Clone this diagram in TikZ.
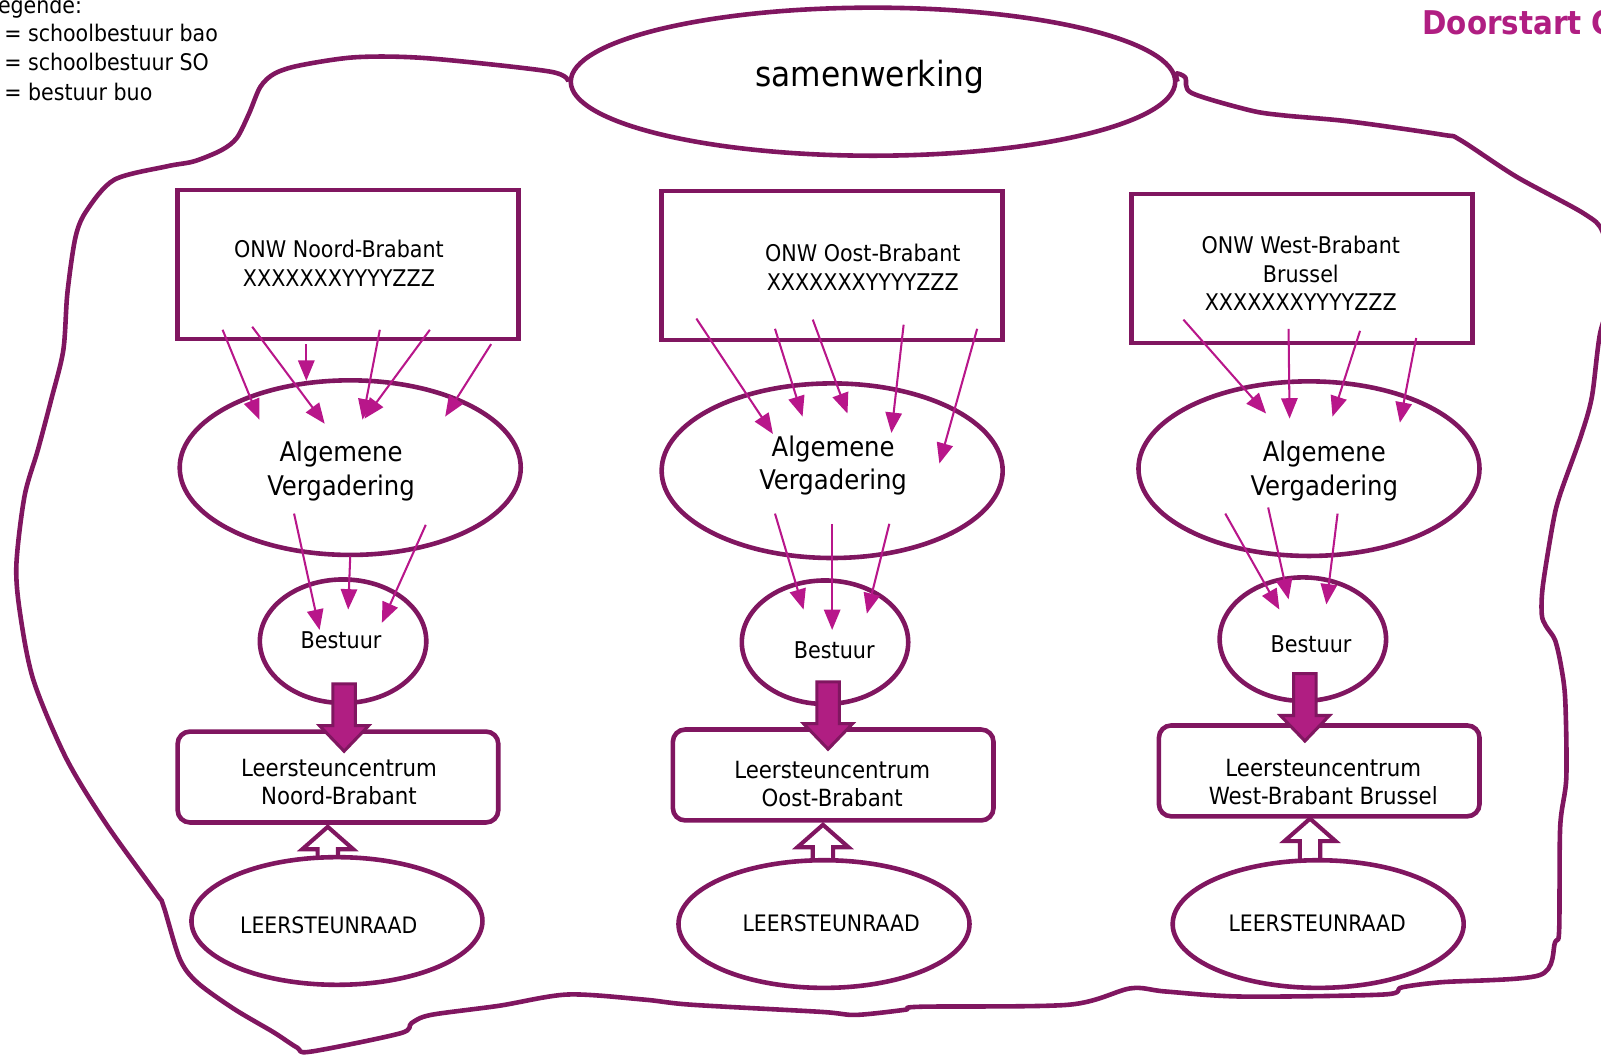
\documentclass[tikz,border=0pt]{standalone}
\usepackage{fontspec}
\setmainfont{DejaVuSansCondensed}[Extension=.ttf, BoldFont=DejaVuSansCondensed-Bold]
\usetikzlibrary{arrows.meta,shapes.geometric}

\definecolor{plum}{RGB}{128,22,96}
\definecolor{magen}{RGB}{184,22,138}
\definecolor{titlemag}{RGB}{176,30,130}

\tikzset{
  rim/.style={draw=plum, line width=4.5pt},
  flow/.style={magen, line width=2pt, -{Triangle[length=20pt,width=16pt]}},
  bigdown/.pic={
    \draw[draw=plum, fill=titlemag, line width=3pt]
      (0,0) -- (-24,-25) -- (-11,-25) -- (-11,-66) -- (11,-66) -- (11,-25) -- (24,-25) -- cycle;
  },
  hollowup/.pic={
    \draw[draw=plum, fill=white, line width=4pt]
      (0,0) -- (-25,22) -- (-10,22) -- (-10,42) -- (10,42) -- (10,22) -- (25,22) -- cycle;
  }
}

\begin{document}
\begin{tikzpicture}[x=1pt, y=-1pt]
  \useasboundingbox (0,0) rectangle (1568,1033);
  \clip (0,0) rectangle (1568,1033);

  % legenda en titel
  \begin{scope}[every node/.style={anchor=base west, inner sep=0pt, font=\fontsize{22.4}{28}\selectfont}]
    \node (leg) at (-13,13) {Legende:};
    \node (legbao) at (4,41) {= schoolbestuur bao};
    \node (legso) at (4,69) {= schoolbestuur SO};
    \node (legbuo) at (4,98) {= bestuur buo};
    \node[text=titlemag, font=\fontsize{32}{38}\selectfont\bfseries] (titel) at (1393,34) {Doorstart C};
  \end{scope}

  \node[rim, ellipse, minimum width=592pt, minimum height=145pt, inner sep=0pt,
        font=\fontsize{34}{40}\selectfont] (samen) at (855,80) {};
  \node[font=\fontsize{34}{40}\selectfont] (samenT) at (852,75) {samenwerking};

  % omtrek van de samenwerking
  \draw[rim, line join=round] plot[smooth, tension=0.5] coordinates {
    (samen.west) (538,70) (418,57) (349,56) (294,64) (269,72) (255,85) (244,111)
    (232,135) (217,147) (190,158) (163,163) (112,176) (85,206) (74,232) (66,287)
    (62,343) (50,392) (37,441) (24,486) (16,554) (20,603) (33,667) (65,743)
    (104,807) (153,875) (160,887) (176,939) (193,962) (229,988) (268,1011)
    (291,1026) (304,1030) (392,1012) (403,1002) (422,994) (489,985) (556,974)
    (631,979) (677,984) (804,991) (838,994) (886,989) (901,986) (1047,984)
    (1107,968) (1141,971) (1216,976) (1355,974) (1373,967) (1411,962) (1508,955)
    (1523,923) (1527,911) (1528,810) (1534,762) (1533,686) (1529,653) (1523,627)
    (1514,613) (1510,602) (1511,574) (1521,512) (1528,484) (1548,428) (1559,389)
    (1567,327) (1580,280) (1570,228) (1551,209) (1485,173) (1430,137) (1413,132)
    (1322,119) (1257,113) (1224,108) (1167,91) (1161,76) (1152,72) (samen.east)};

  % ONW
  \begin{scope}[every node/.style={rim, rectangle, minimum width=334pt, minimum height=146pt}]
    \node (onwN) at (341,259) {};
    \node (onwO) at (815,260) {};
    \node (onwW) at (1275,263) {};
  \end{scope}
  \begin{scope}[every node/.style={align=center, font=\fontsize{22.5}{28}\selectfont}]
    \node (onwNt) at (332,258) {ONW Noord-Brabant\\XXXXXXXYYYYZZZ};
    \node (onwOt) at (845,262) {ONW Oost-Brabant\\XXXXXXXYYYYZZZ};
    \node (onwWt) at (1274,268) {ONW West-Brabant\\Brussel\\XXXXXXXYYYYZZZ};
  \end{scope}

  % algemene vergadering
  \begin{scope}[every node/.style={rim, ellipse, minimum width=334pt, minimum height=171pt}]
    \node (avN) at (343,458) {};
    \node (avO) at (815,461) {};
    \node (avW) at (1282,459) {};
  \end{scope}
  \begin{scope}[every node/.style={align=center, font=\fontsize{26.5}{33}\selectfont}]
    \node (avNt) at (334,461) {Algemene\\Vergadering};
    \node (avOt) at (816,456) {Algemene\\Vergadering};
    \node (avWt) at (1297,461) {Algemene\\Vergadering};
  \end{scope}

  % bestuur
  \begin{scope}[every node/.style={rim, ellipse, minimum width=163pt, minimum height=121pt}]
    \node (bestN) at (336,628) {};
    \node (bestO) at (808,629) {};
    \node (bestW) at (1276,626) {};
  \end{scope}
  \begin{scope}[every node/.style={font=\fontsize{22.6}{27}\selectfont}]
    \node (bestNt) at (334,627) {Bestuur};
    \node (bestOt) at (817,637) {Bestuur};
    \node (bestWt) at (1284,631) {Bestuur};
  \end{scope}

  % leersteuncentra
  \begin{scope}[every node/.style={rim, rectangle, rounded corners=12pt, minimum width=314pt,
                                   minimum height=89pt}]
    \node (lscN) at (331,761) {};
    \node (lscO) at (816,759) {};
    \node (lscW) at (1292,755) {};
  \end{scope}
  \begin{scope}[every node/.style={align=center, font=\fontsize{23.2}{28}\selectfont}]
    \node (lscNt) at (332,766) {Leersteuncentrum\\Noord-Brabant};
    \node (lscOt) at (815,768) {Leersteuncentrum\\Oost-Brabant};
    \node (lscWt) at (1296,766) {Leersteuncentrum\\West-Brabant Brussel};
  \end{scope}

  \pic at ([shift={(-10,2)}]lscN.south) {hollowup};
  \pic at ([shift={(-10,2)}]lscO.south) {hollowup};
  \pic at ([shift={(-9,0)}]lscW.south) {hollowup};

  % leersteunraden
  \begin{scope}[every node/.style={rim, ellipse, fill=white, minimum width=285pt, minimum height=125pt}]
    \node (raadN) at (330,902) {};
    \node (raadO) at (807,905) {};
    \node (raadW) at (1291,905) {};
  \end{scope}
  \begin{scope}[every node/.style={font=\fontsize{22.2}{27}\selectfont}]
    \node (raadNt) at (322,906) {LEERSTEUNRAAD};
    \node (raadOt) at (814,904) {LEERSTEUNRAAD};
    \node (raadWt) at (1290,904) {LEERSTEUNRAAD};
  \end{scope}

  \pic at ([shift={(1,45)}]bestN.south) {bigdown};
  \pic at ([shift={(3,42)}]bestO.south) {bigdown};
  \pic at ([shift={(2,37)}]bestW.south) {bigdown};

  % ONW -> algemene vergadering
  \foreach \sx/\sy/\ex/\ey in {-123/64/-89/-47, -94/61/-25/-43, -41/78/-43/-85,
                              31/64/12/-47, 80/64/14/-48, 140/78/93/-50}
    \draw[flow] ([shift={(\sx,\sy)}]onwN.center) -- ([shift={(\ex,\ey)}]avN.center);
  \foreach \sx/\sy/\ex/\ey in {-133/52/-58/-36, -56/62/-29/-53, -19/53/15/-56,
                              70/58/58/-37, 142/62/105/-7}
    \draw[flow] ([shift={(\sx,\sy)}]onwO.center) -- ([shift={(\ex,\ey)}]avO.center);
  \foreach \sx/\sy/\ex/\ey in {-116/50/-42/-54, -13/59/-19/-49, 57/61/23/-51, 112/68/89/-45}
    \draw[flow] ([shift={(\sx,\sy)}]onwW.center) -- ([shift={(\ex,\ey)}]avW.center);

  % algemene vergadering -> bestuur
  \foreach \sx/\sy/\ex/\ey in {-55/45/-23/-11, 0/87/5/-31, 74/56/38/-18}
    \draw[flow] ([shift={(\sx,\sy)}]avN.center) -- ([shift={(\ex,\ey)}]bestN.center);
  \foreach \sx/\sy/\ex/\ey in {-56/42/-21/-32, 0/52/7/-12, 56/52/41/-28}
    \draw[flow] ([shift={(\sx,\sy)}]avO.center) -- ([shift={(\ex,\ey)}]bestO.center);
  \foreach \sx/\sy/\ex/\ey in {-82/44/-23/-29, -40/38/-14/-39, 28/44/23/-34}
    \draw[flow] ([shift={(\sx,\sy)}]avW.center) -- ([shift={(\ex,\ey)}]bestW.center);
\end{tikzpicture}
\end{document}
